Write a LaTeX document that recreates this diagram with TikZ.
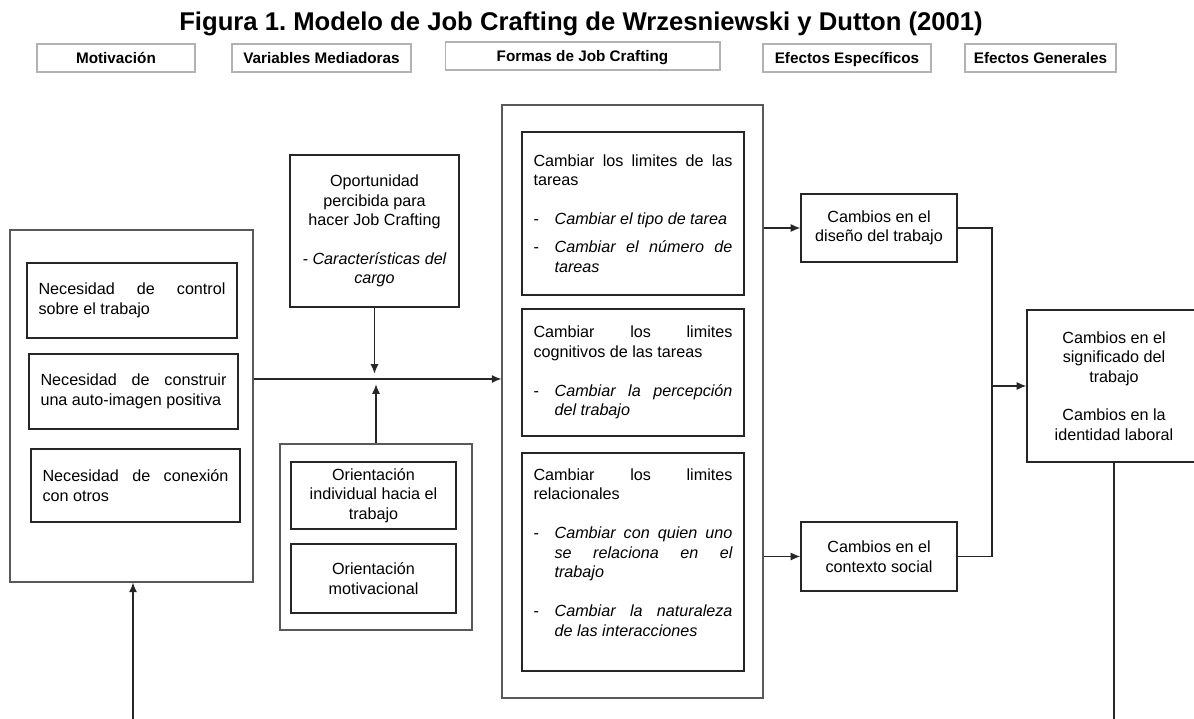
\documentclass[tikz,border=0pt]{standalone}
\usepackage{fontspec}
\setmainfont{Liberation Sans}
\usetikzlibrary{arrows.meta}
\newcommand{\boxfont}{\fontsize{9.2}{11.1}\selectfont\tolerance=10000\pretolerance=-1\hyphenpenalty=10000\exhyphenpenalty=10000\hbadness=10000}
\newcommand{\craftItem}[2][\baselineskip]{\par\vspace{#1}\noindent\hangindent=12pt\hangafter=1\makebox[12pt][l]{-}\textit{#2}\par}
\tikzstyle{headBox} = [shape=rectangle, draw=black!30, line width=0.6pt, inner sep=0,
	minimum height=0.56cm, text height=7.6pt, text depth=1pt, font=\fontsize{8.7}{10}\selectfont\bfseries]
\tikzstyle{outerBox} = [shape=rectangle, draw=black!65, line width=0.7pt, inner sep=0]
\tikzstyle{innerBox} = [shape=rectangle, draw=black!85, line width=0.8pt, font=\boxfont]
\tikzstyle{centBox} = [innerBox, align=center, inner sep=0]
\tikzstyle{justBox} = [innerBox, align=justify, inner ysep=0, inner xsep=0.23cm]
\tikzstyle{normalLine} = [line width=0.7pt, draw=black!85]
\tikzstyle{normalArrow} = [normalLine, ->, >={Latex[length=5.5pt,width=4.6pt]}]

\begin{document}
\begin{tikzpicture}[x=0.02cm, y=-0.02cm]
  \useasboundingbox (0,0) rectangle (1194,719);

  \node (TITLE) at (581,24) [font=\fontsize{14.6}{16}\selectfont\bfseries\frenchspacing]
    {Figura 1. Modelo de Job Crafting de Wrzesniewski y Dutton (2001)};

  \node (HMOT) at (116,58) [headBox, minimum width=3.16cm] {Motivación};
  \node (HVAR) at (321.5,58) [headBox, minimum width=3.58cm] {Variables Mediadoras};
  \node (HFOR) at (582.5,56) [headBox, minimum width=5.5cm] {Formas de Job Crafting};
  \node (HESP) at (847,58) [headBox, minimum width=3.36cm] {Efectos Específicos};
  \node (HGEN) at (1040.5,58) [headBox, minimum width=3.02cm] {Efectos Generales};

  % motivacion
  \node (MOT) at (131.5,406) [outerBox, minimum width=4.86cm, minimum height=7.04cm] {};
  \node (NEED1) at (132,300.5) [justBox, text width=3.74cm, minimum height=1.5cm]
    {Necesidad de control\linebreak sobre el trabajo};
  \node (NEED2) at (133.5,391.5) [justBox, text width=3.72cm, minimum height=1.5cm]
    {Necesidad de construir\linebreak una auto-imagen positiva};
  \node (NEED3) at (135.5,485.5) [justBox, text width=3.72cm, minimum height=1.46cm]
    {Necesidad de conexión\linebreak con otros};

  % variables mediadoras
  \node (OPOR) at (374.5,231) [centBox, minimum width=3.38cm, minimum height=3.04cm]
    {Oportunidad\\percibida para\\hacer Job Crafting\\[11pt]{\itshape - Características del}\\{\itshape cargo}};
  \node (ORIE) at (376,537) [outerBox, minimum width=3.84cm, minimum height=3.72cm] {};
  \node (ORIA) at (373.5,495.5) [centBox, minimum width=3.3cm, minimum height=1.34cm]
    {Orientación\\individual hacia el\\trabajo};
  \node (ORIB) at (373.5,578.5) [centBox, minimum width=3.3cm, minimum height=1.38cm]
    {Orientación\\motivacional};

  % formas de job crafting
  \node (FORM) at (632.5,401.5) [outerBox, minimum width=5.22cm, minimum height=11.86cm] {};
  \node (TASK) at (633,213.5) [justBox, text width=3.98cm, minimum height=3.26cm]
    {Cambiar los limites de las\linebreak tareas
     \craftItem{Cambiar el tipo de tarea}
     \craftItem[4.8pt]{Cambiar el número de\linebreak tareas}};
  \node (COGN) at (633,372.5) [justBox, text width=3.98cm, minimum height=2.54cm]
    {Cambiar los limites\linebreak cognitivos de las tareas
     \craftItem{Cambiar la percepción\linebreak del trabajo}};
  \node (RELA) at (633,562) [justBox, text width=3.98cm, minimum height=4.36cm]
    {Cambiar los limites\linebreak relacionales
     \craftItem{Cambiar con quien uno\linebreak se relaciona en el\linebreak trabajo}
     \craftItem{Cambiar la naturaleza\linebreak de las interacciones}
     \hbox{}};

  % efectos
  \node (DISE) at (879,228) [centBox, minimum width=3.12cm, minimum height=1.36cm]
    {Cambios en el\\diseño del trabajo};
  \node (CONT) at (879,556.5) [centBox, minimum width=3.12cm, minimum height=1.38cm]
    {Cambios en el\\contexto social};
  \node (SIGN) at (1114,386) [centBox, minimum width=3.48cm, minimum height=3.04cm]
    {Cambios en el\\significado del\\trabajo\\[11pt]Cambios en la\\identidad laboral};

  \coordinate (JOIN) at (375,379);
  \coordinate (MERGE) at (992,386);
  \coordinate (LOOPL) at (133,719);
  \coordinate (LOOPR) at (1114,719);

  \draw [normalArrow] (MOT.east |- JOIN) -- (FORM.west |- JOIN);
  \draw [normalArrow, shorten >=3pt] (OPOR.south) -- (OPOR.south |- JOIN);
  \draw [normalArrow, shorten >=3pt] (ORIE.north) -- (ORIE.north |- JOIN);
  \draw [normalArrow] (FORM.east |- DISE.west) -- (DISE.west);
  \draw [normalArrow] (FORM.east |- CONT.west) -- (CONT.west);
  \draw [normalLine] (DISE.east) -| (MERGE);
  \draw [normalLine] (CONT.east) -| (MERGE);
  \draw [normalArrow] (MERGE) -- (SIGN.west);
  \draw [normalLine] (SIGN.south) -- (LOOPR);
  \draw [normalArrow] (LOOPL) -- (LOOPL |- MOT.south);

\end{tikzpicture}
\end{document}
